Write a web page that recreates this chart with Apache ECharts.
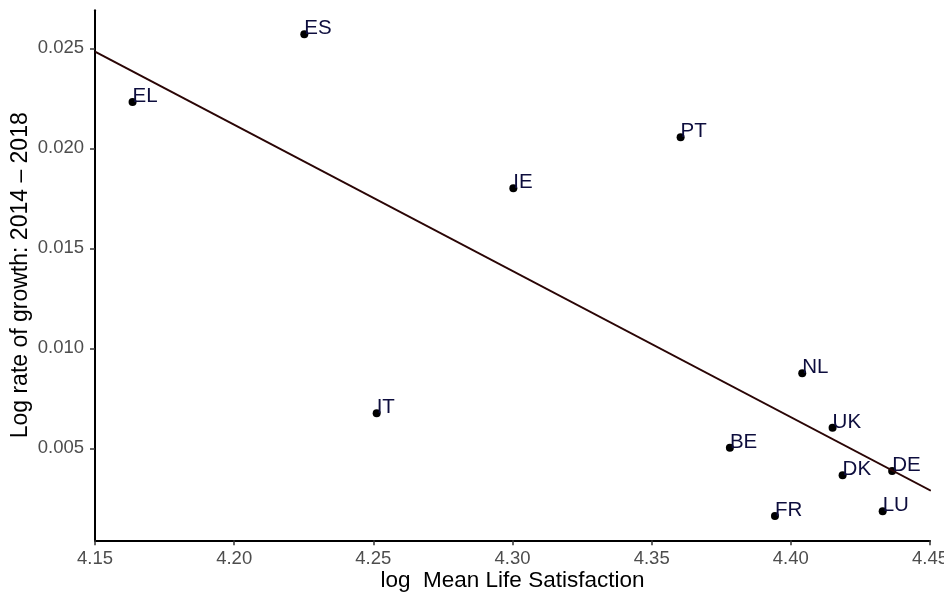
<!DOCTYPE html>
<html>
<head>
<meta charset="utf-8">
<script src="https://cdn.jsdelivr.net/npm/echarts@6/dist/echarts.min.js"></script>
<style>
  html, body { margin: 0; padding: 0; background: #fff; }
  #main { width: 944px; height: 593px; }
</style>
</head>
<body>
<div id="main"></div>
<script>
// countries and their values
var countries = ['EL', 'ES', 'IE', 'PT', 'IT', 'BE', 'FR', 'NL', 'UK', 'DK', 'LU', 'DE']
var lifeSat = [4.1635, 4.2252, 4.3003, 4.3604, 4.2512, 4.3781, 4.3943, 4.4041, 4.4150, 4.4186, 4.4330, 4.4364]
var growth = [0.02232, 0.02570, 0.01800, 0.02055, 0.00675, 0.00503, 0.00162, 0.00875, 0.00603, 0.00365, 0.00185, 0.00386]

// fitted line end points
var fitX = [4.15, 4.4503]
var fitY = [0.02483, 0.00288]

var xTicks = [4.15, 4.20, 4.25, 4.30, 4.35, 4.40, 4.45]
var yTicks = [0.005, 0.010, 0.015, 0.020, 0.025]

var font = 'Liberation Sans, Arial, Helvetica, sans-serif'

var chart = echarts.init(document.getElementById('main'))

var points = []
for (var i = 0; i < countries.length; i++) {
  points.push({ name: countries[i], value: [lifeSat[i], growth[i]] })
}
var fitData = []
for (var j = 0; j < fitX.length; j++) {
  fitData.push([fitX[j], fitY[j]])
}

var option = {
  animation: false,
  backgroundColor: '#fff',
  grid: {
    left: 95,
    right: 14,
    top: 10.3,
    bottom: 52.7,
    containLabel: false,
    outerBoundsMode: 'none'
  },
  xAxis: {
    type: 'value',
    min: 4.15,
    max: 4.45,
    name: 'log  Mean Life Satisfaction',
    nameLocation: 'middle',
    nameGap: 29,
    nameMoveOverlap: false,
    nameTextStyle: { color: '#000', fontSize: 22.5, fontFamily: font },
    axisLine: { onZero: false, lineStyle: { color: '#000', width: 2 } },
    axisTick: { customValues: xTicks, length: 5, lineStyle: { color: '#333', width: 1.5 } },
    axisLabel: {
      customValues: xTicks,
      margin: 9,
      color: '#4d4d4d',
      fontSize: 18.5,
      fontFamily: font,
      formatter: function (v) { return v.toFixed(2) }
    },
    splitLine: { show: false }
  },
  yAxis: {
    type: 'value',
    min: 0.0004,
    max: 0.0269,
    name: 'Log rate of growth: 2014 \u2013 2018',
    nameLocation: 'middle',
    nameGap: 63,
    nameMoveOverlap: false,
    nameRotate: 90,
    nameTextStyle: { color: '#000', fontSize: 23, fontFamily: font },
    axisLine: { onZero: false, lineStyle: { color: '#000', width: 2 } },
    axisTick: { customValues: yTicks, length: 5, lineStyle: { color: '#333', width: 1.5 } },
    axisLabel: {
      customValues: yTicks,
      margin: 11,
      color: '#4d4d4d',
      fontSize: 18.5,
      fontFamily: font,
      formatter: function (v) { return v.toFixed(3) }
    },
    splitLine: { show: false }
  },
  series: [
    {
      type: 'line',
      data: fitData,
      showSymbol: false,
      lineStyle: { color: '#2a0505', width: 2 },
      z: 3
    },
    {
      type: 'scatter',
      data: points,
      symbolSize: 8,
      itemStyle: { color: '#000', opacity: 1 },
      label: {
        show: true,
        position: [4, 9],
        align: 'left',
        verticalAlign: 'bottom',
        formatter: '{b}',
        color: '#0d0d3d',
        opacity: 1,
        fontSize: 20.5,
        fontFamily: font
      },
      z: 2
    }
  ]
}
chart.setOption(option)
</script>
</body>
</html>
